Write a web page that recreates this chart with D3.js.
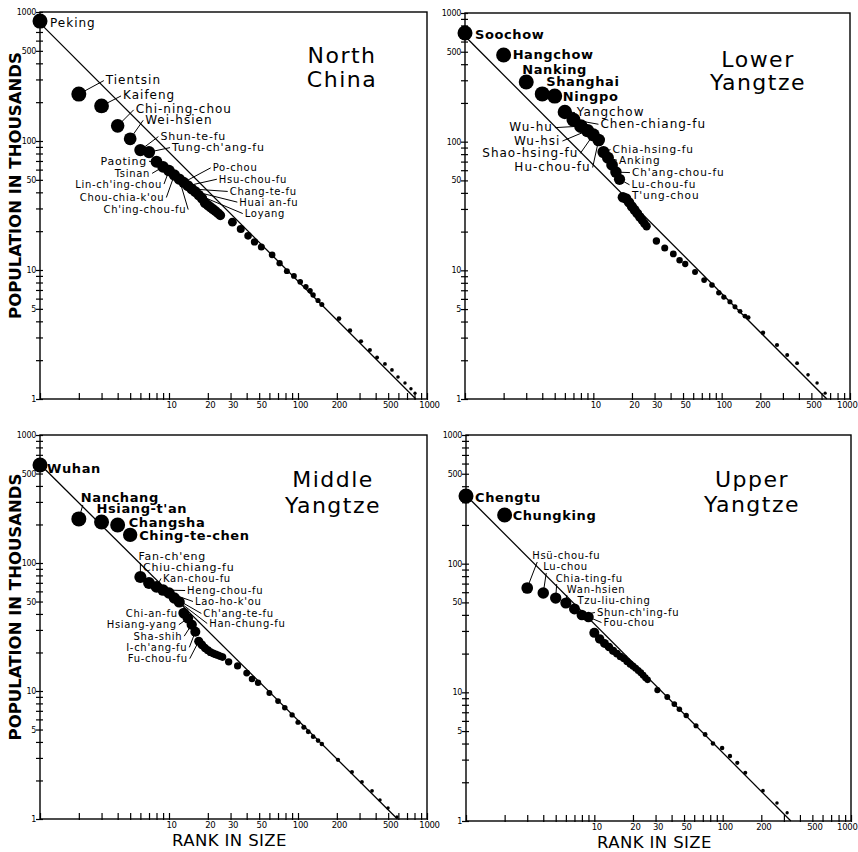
<!DOCTYPE html>
<html><head><meta charset="utf-8">
<script src="https://cdn.jsdelivr.net/npm/d3@7"></script>
<style>body{margin:0;background:#fff} svg{display:block}</style>
</head><body>
<svg id="chart" width="858" height="852"></svg>
<script>
// ---------------- DATA (rank in size, population in thousands) ----------------
const northRanks = [1,2,3,4,5,6,7,8,9,10,11,12,13,14,15,16,17,18,19,20,21,22,23,24,25,
  31,36,41,46,52,63,72,82,93,104,115,124,131,143,153,208,253,308,361,410,472,535,596,675,751,807];
const northPops = [850,231,187,131,104,85,82,69,63,59,54.5,50.7,47.8,45,42.5,40.5,38.1,36,33.2,31.9,30.6,29.5,28.5,27.5,26.5,
  23.5,20.8,18.4,16.5,15.1,13.1,11.3,9.8,9.0,8.1,7.4,6.9,6.4,5.8,5.4,4.2,3.4,2.8,2.4,2.1,1.87,1.68,1.48,1.33,1.2,1.11];

const lowerRanks = [1,2,3,4,5,6,7,8,9,10,11,12,13,14,15,16,17,18,19,20,21,22,23,24,25,26,
  31,36,42,47,52,62,73,84,95,104,116,127,139,152,161,210,270,324,387,471,554,640];
const lowerPops = [700,472,291,235,226,170,148,132,122,113,103,83,75,66,58,51,37,36.2,33.7,31.3,29.4,27.6,26,24.6,23.2,22.0,
  16.9,14.9,13.4,12.0,11.2,9.7,8.4,7.7,6.7,6.2,5.7,5.2,4.8,4.4,4.3,3.27,2.63,2.2,1.9,1.54,1.33,1.11];

const middleRanks = [1,2,3,4,5,6,7,8,9,10,11,12,13,14,15,16,17,18,19,20,21,22,23,24,25,26,
  29,34,40,44,49,60,70,79,90,100,111,120,131,143,153,204,262,313,375,432,499,585];
const middlePops = [583,221,209,198,166,77.8,69.8,65,61.5,58.3,53.3,49.6,40.6,37,33,29,24.5,22.9,21.7,20.8,20.1,19.7,19.3,19.0,18.7,18.4,
  16.9,15.7,13.8,12.4,11.6,9.65,8.35,7.4,6.5,5.7,5.2,4.8,4.4,4.1,3.85,2.9,2.33,1.95,1.66,1.41,1.22,1.04];

const upperRanks = [1,2,3,4,5,6,7,8,9,10,11,12,13,14,15,16,17,18,19,20,21,22,23,24,25,26,
  31,37,42,46,52,62,73,84,99,114,130,150,206,265,318];
const upperPops = [336,239,64.7,59.2,54,49.5,44.5,39.9,38.5,29,26,24,22.5,21,20,19,18.3,17.4,16.6,16,15.4,14.8,14.2,13.6,13,12.5,
  10.4,9.2,8.1,7.4,6.6,5.5,4.7,4.0,3.7,3.2,2.83,2.37,1.72,1.38,1.16];

// Rank-size reference line: population of the first-ranked city (line P = K / rank)
const fitConstants = [820, 660, 590, 340];

const regionTitles = [["North","China"],["Lower","Yangtze"],["Middle","Yangtze"],["Upper","Yangtze"]];

const yTickLabels = [1,5,10,50,100,500,1000];
const xTickLabels = [10,20,30,50,100,200,500,1000];

// City labels: [name, rank, dx, dy, anchor, size class, leader(0 none / 1 default / [lx,ly])]
const northLabels = [
  ["Peking",1,10,6,"start","B",0],
  ["Tientsin",2,27,-10,"start","B",1],
  ["Kaifeng",3,21.5,-6.5,"start","B",1],
  ["Chi-ning-chou",4,18,-12.5,"start","B",1],
  ["Wei-hsien",5,15,-15,"start","B",1],
  ["Shun-te-fu",6,20,-10,"start","M",1],
  ["Tung-ch'ang-fu",7,23,-1,"start","M",1],
  ["Paoting",8,-9.5,3,"end","M",1],
  ["Tsinan",9,-13,10,"end","S",1],
  ["Lin-ch'ing-chou",10,-7,17,"end","S",1],
  ["Chou-chia-k'ou",11,-10,26,"end","S",1],
  ["Ch'ing-chou-fu",12,7,34,"end","S",1],
  ["Po-chou",13,29,-11,"start","S",1],
  ["Hsu-chou-fu",14,31,-3,"start","S",1],
  ["Chang-te-fu",15,38,6,"start","S",1],
  ["Huai an-fu",16,44,14,"start","S",1],
  ["Loyang",17,46,22,"start","S",1]
];
const lowerLabels = [
  ["Soochow",1,10,6,"start","A",0],
  ["Hangchow",2,9,4,"start","A",0],
  ["Nanking",3,-4,-8,"start","A",0],
  ["Shanghai",4,4,-8,"start","A",0],
  ["Ningpo",5,8,5,"start","A",0],
  ["Yangchow",6,12,4,"start","B",1],
  ["Chen-chiang-fu",7,27,8,"start","B",1],
  ["Wu-hu",8,-28,5,"end","B",1],
  ["Wu-hsi",9,-27,14,"end","B",1],
  ["Shao-hsing-fu",10,-15,22,"end","B",1],
  ["Hu-chou-fu",11,-8,31,"end","B",1],
  ["Chia-hsing-fu",12,9,1,"start","C",1],
  ["Anking",13,11,6,"start","C",1],
  ["Ch'ang-chou-fu",15,16,4,"start","C",1],
  ["Lu-chou-fu",16,12,9,"start","C",1],
  ["T'ung-chou",17,9,2,"start","C",1]
];
const middleLabels = [
  ["Wuhan",1,7,8,"start","A",0],
  ["Nanchang",2,2,-17,"start","A",[2,3]],
  ["Hsiang-t'an",3,-5,-9,"start","A",0],
  ["Changsha",4,11,2,"start","A",0],
  ["Ching-te-chen",5,9,5,"start","A",0],
  ["Fan-ch'eng",6,-2,-17,"start","M",[2,3]],
  ["Chiu-chiang-fu",7,-6,-12,"start","M",[-1,2]],
  ["Kan-chou-fu",8,6.5,-5,"start","S",1],
  ["Heng-chou-fu",9,24,4,"start","S",1],
  ["Lao-ho-k'ou",10,26,12,"start","S",1],
  ["Ch'ang-te-fu",11,29,19,"start","S",1],
  ["Han-chung-fu",12,30,25,"start","S",1],
  ["Chi-an-fu",13,-6,4,"end","S",1],
  ["Hsiang-yang",14,-11,10,"end","S",1],
  ["Sha-shih",15,-9.5,15,"end","S",1],
  ["I-ch'ang-fu",16,-8,19,"end","S",1],
  ["Fu-chou-fu",17,-11,21,"end","S",1]
];
const upperLabels = [
  ["Chengtu",1,9,6,"start","A",0],
  ["Chungking",2,8,5,"start","A",0],
  ["Hsü-chou-fu",3,5,-29,"start","S",[5,3]],
  ["Lu-chou",4,0,-23,"start","S",[3,3]],
  ["Chia-ting-fu",5,0,-16,"start","S",[1,2]],
  ["Wan-hsien",6,1,-10,"start","S",[0,2]],
  ["Tzu-liu-ching",7,3,-5,"start","S",[-2,0]],
  ["Shun-ch'ing-fu",8,15,1,"start","S",1],
  ["Fou-chou",9,15,9,"start","S",1]
];

// ---------------- LAYOUT ----------------
const FONT = "'DejaVu Sans', sans-serif";
const labelStyles = {
  A:{size:13, weight:"bold", ls:0.6},
  B:{size:12, weight:"normal", ls:1},
  M:{size:11, weight:"normal", ls:0.8},
  S:{size:10, weight:"normal", ls:0.7},
  C:{size:10.5, weight:"normal", ls:0.9}
};
const panels = [
  {ranks:northRanks, pops:northPops, labels:northLabels, title:regionTitles[0], K:fitConstants[0],
   box:{x0:40,x1:427,y0:12,y1:399}, tx:302, ty:[51,75], left:true, bottom:false},
  {ranks:lowerRanks, pops:lowerPops, labels:lowerLabels, title:regionTitles[1], K:fitConstants[1],
   box:{x0:465,x1:850,y0:13,y1:399}, tx:293, ty:[54,77], left:false, bottom:false},
  {ranks:middleRanks, pops:middlePops, labels:middleLabels, title:regionTitles[2], K:fitConstants[2],
   box:{x0:40,x1:427,y0:435,y1:819}, tx:293, ty:[52,78], left:true, bottom:true},
  {ranks:upperRanks, pops:upperPops, labels:upperLabels, title:regionTitles[3], K:fitConstants[3],
   box:{x0:466,x1:851,y0:435,y1:821}, tx:286, ty:[52,77], left:false, bottom:true}
];

const svg = d3.select("#chart");
svg.append("rect").attr("width",858).attr("height",852).attr("fill","#fff");

const rScale = d3.scaleLinear()
  .domain([0,0.6,1.0,1.3,1.45,2.0,2.3])
  .range([1.6,2.3,3.0,3.9,5.0,6.3,7.5]).clamp(true);

// all minor log positions for ticks
const minorTicks = [];
[1,10,100].forEach(d => { for (let m=1;m<10;m++) minorTicks.push(d*m); });
minorTicks.push(1000);

panels.forEach(p => {
  const b = p.box;
  const x = d3.scaleLog().domain([1,1000]).range([b.x0,b.x1]);
  const y = d3.scaleLog().domain([1,1000]).range([b.y1,b.y0]);
  const g = svg.append("g");

  // frame
  g.append("rect").attr("x",b.x0).attr("y",b.y0)
    .attr("width",b.x1-b.x0).attr("height",b.y1-b.y0)
    .attr("fill","none").attr("stroke","#000").attr("stroke-width",1.4);

  // y axis
  const yAxis = d3.axisLeft(y).tickValues(minorTicks)
    .tickFormat(v => yTickLabels.includes(v) ? String(v) : "")
    .tickSizeInner(4).tickSizeOuter(0).tickPadding(0);
  const ya = g.append("g").attr("transform",`translate(${b.x0},0)`).call(yAxis);
  ya.select(".domain").remove();
  ya.selectAll(".tick line").attr("x1",3).attr("stroke","#000").attr("stroke-width",1.2);
  ya.selectAll(".tick text").attr("font-family",FONT).attr("font-size",8)
    .attr("fill","#000").attr("letter-spacing",-0.3);

  // x axis
  const xAxis = d3.axisBottom(x).tickValues(minorTicks)
    .tickFormat(v => xTickLabels.includes(v) ? String(v) : "")
    .tickSizeInner(-6).tickSizeOuter(0).tickPadding(3);
  const xa = g.append("g").attr("transform",`translate(0,${b.y1})`).call(xAxis);
  xa.select(".domain").remove();
  xa.selectAll(".tick line").attr("y1",1).attr("stroke","#000").attr("stroke-width",1.2);
  xa.selectAll(".tick text").attr("font-family",FONT).attr("font-size",8.5)
    .attr("fill","#000").attr("dx",2).attr("letter-spacing",-0.3);
  if (!p.left) {
    // keep the last label inside the page
    xa.selectAll(".tick text").filter(v => v === 1000)
      .attr("text-anchor","end").attr("dx",0).attr("x",857 - b.x1);
  }

  // reference line
  g.append("line")
    .attr("x1",x(1)).attr("y1",y(p.K))
    .attr("x2",x(p.K)).attr("y2",y(1))
    .attr("stroke","#000").attr("stroke-width",1.3);

  // labels & leaders
  const pts = p.ranks.map((r,i)=>({rank:r, pop:p.pops[i]}));
  const byRank = new Map(pts.map(d=>[d.rank,d]));
  const labs = p.labels.map(l => {
    const d = byRank.get(l[1]);
    const cx = x(d.rank), cy = y(d.pop);
    const tx = cx + l[2], ty = cy + l[3];
    let lead = null;
    if (l[6] === 1) lead = l[4]==="end" ? [tx+2, ty-3.5] : [tx-2, ty-3.5];
    else if (Array.isArray(l[6])) lead = [tx+l[6][0], ty+l[6][1]];
    return {name:l[0], cx, cy, tx, ty, anchor:l[4], st:labelStyles[l[5]], lead};
  });

  g.selectAll("line.leader").data(labs.filter(d=>d.lead)).join("line")
    .attr("class","leader")
    .attr("x1",d=>d.cx).attr("y1",d=>d.cy)
    .attr("x2",d=>d.lead[0]).attr("y2",d=>d.lead[1])
    .attr("stroke","#000").attr("stroke-width",1);

  // dots
  g.selectAll("circle").data(pts).join("circle")
    .attr("cx",d=>x(d.rank)).attr("cy",d=>y(d.pop))
    .attr("r",d=>rScale(Math.log10(d.pop)))
    .attr("fill","#000");

  g.selectAll("text.city").data(labs).join("text")
    .attr("class","city")
    .attr("x",d=>d.tx).attr("y",d=>d.ty)
    .attr("text-anchor",d=>d.anchor)
    .attr("font-family",FONT)
    .attr("font-size",d=>d.st.size)
    .attr("font-weight",d=>d.st.weight)
    .attr("letter-spacing",d=>d.st.ls)
    .attr("fill","#000")
    .text(d=>d.name);

  // region title
  p.title.forEach((t,i) => {
    g.append("text").attr("x",b.x0+p.tx).attr("y",b.y0+p.ty[i])
      .attr("text-anchor","middle").attr("font-family",FONT)
      .attr("font-size",22).attr("letter-spacing",1.5).attr("fill","#000")
      .text(t);
  });

  // axis titles
  if (p.left) {
    const cy = (b.y0+b.y1)/2 - 20;
    g.append("text").attr("transform",`translate(21,${cy}) rotate(-90)`)
      .attr("text-anchor","middle").attr("font-family",FONT)
      .attr("font-size",16.5).attr("font-weight","bold").attr("fill","#000")
      .text("POPULATION IN THOUSANDS");
  }
  if (p.bottom) {
    g.append("text").attr("x",(b.x0+b.x1)/2 - 4).attr("y",b.y1+27)
      .attr("text-anchor","middle").attr("font-family",FONT)
      .attr("font-size",16.5).attr("letter-spacing",0.4).attr("fill","#000")
      .text("RANK IN SIZE");
  }
});
</script>
</body></html>
